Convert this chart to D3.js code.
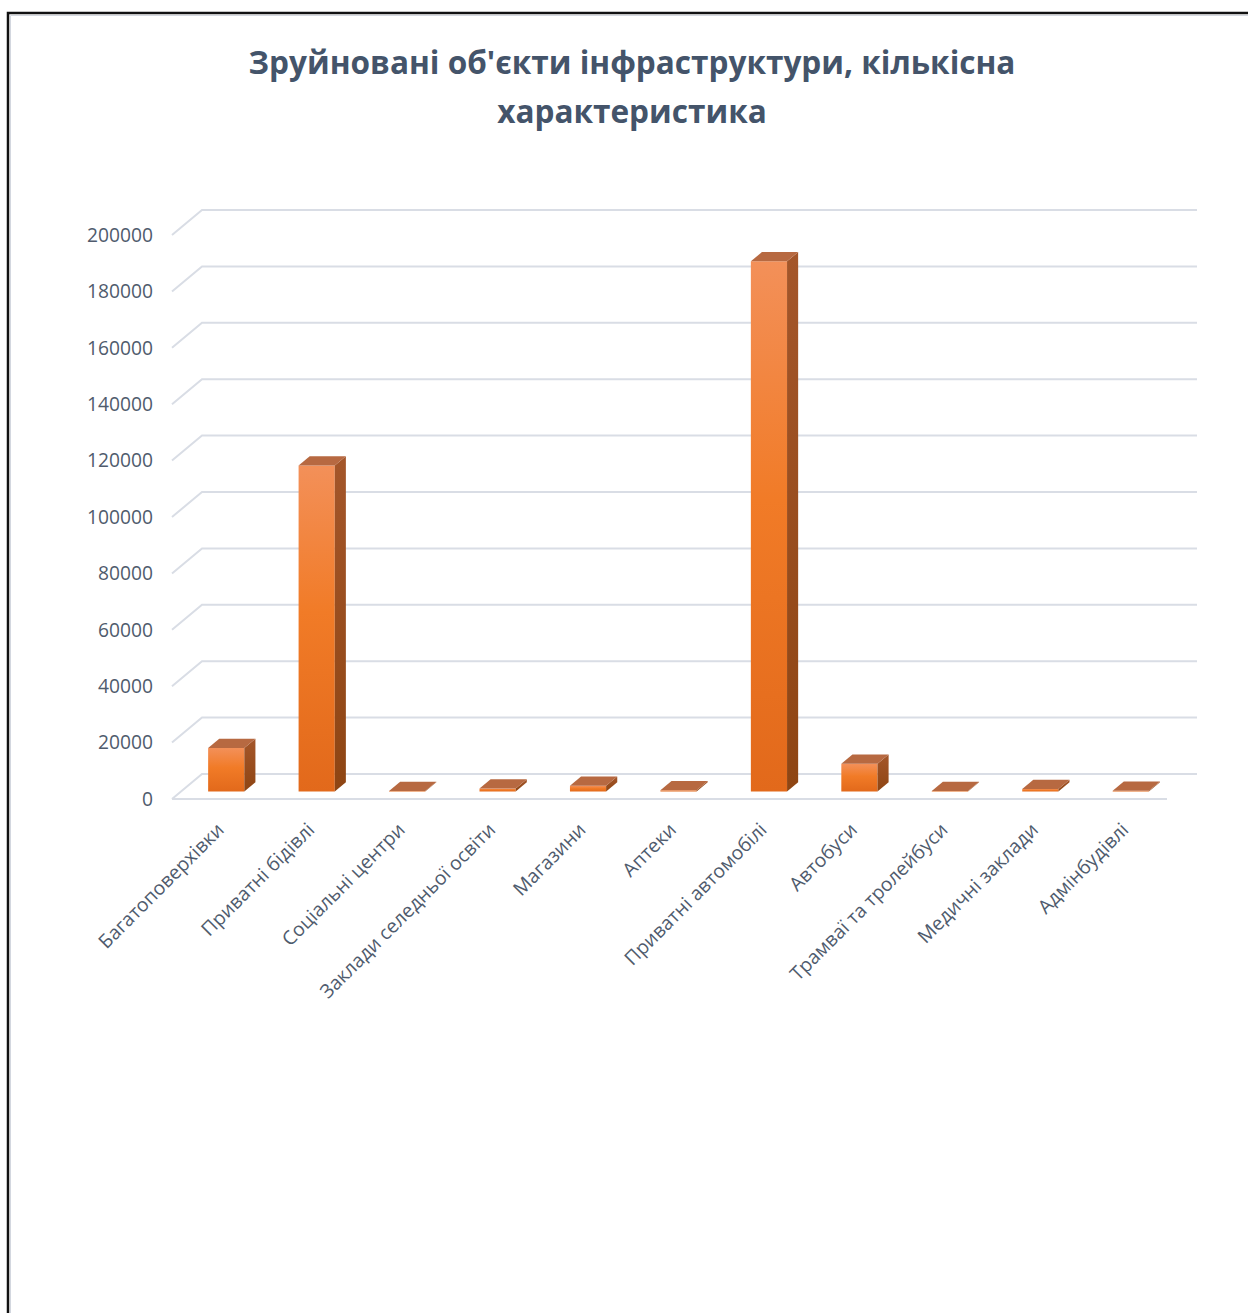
<!DOCTYPE html>
<html>
<head>
<meta charset="utf-8">
<script src="https://cdn.jsdelivr.net/npm/d3@7/dist/d3.min.js"></script>
<style>
  html, body { margin: 0; padding: 0; background: #fff; }
  svg { display: block; }
</style>
</head>
<body>
<svg id="chart" width="1248" height="1313"></svg>
<script>
const titleLines = ["Зруйновані об'єкти інфраструктури, кількісна", "характеристика"];
const categories = [
  "Багатоповерхівки",
  "Приватні бідівлі",
  "Соціальні центри",
  "Заклади селедньої освіти",
  "Магазини",
  "Аптеки",
  "Приватні автомобілі",
  "Автобуси",
  "Трамваї та тролейбуси",
  "Медичні заклади",
  "Адмінбудівлі"
];
const values = [15400, 115600, 200, 1100, 2000, 400, 188000, 9800, 200, 900, 300];
const yTicks = [0, 20000, 40000, 60000, 80000, 100000, 120000, 140000, 160000, 180000, 200000];

const FONT = "'Open Sans', 'Noto Sans', 'DejaVu Sans', sans-serif";
const svg = d3.select("#chart");

function fitSize(str, target, weight) {
  const t = svg.append("text").attr("font-family", FONT).attr("font-size", 100)
    .attr("font-weight", weight || "normal").text(str);
  const w = t.node().getComputedTextLength();
  t.remove();
  return 100 * target / w;
}

// frame
svg.append("rect").attr("x", 8).attr("y", 13).attr("width", 1400).attr("height", 1400)
  .attr("fill", "#fff").attr("stroke", "#111").attr("stroke-width", 2.5);
svg.append("path").attr("d", "M10.5,1313 V15.5 H1248").attr("fill", "none")
  .attr("stroke", "#d3d7df").attr("stroke-width", 1);

// geometry
const frontLeft = 172, frontRight = 1167;
const depthDX = 30, depthDY = -25;
const d0 = 0.3, d1 = 0.67;
const proj = (x, y, d) => [x + depthDX * d, y + depthDY * d];

const x = d3.scaleBand().domain(categories).range([frontLeft, frontRight])
  .paddingInner(0.6).paddingOuter(0.3);
const y = d3.scaleLinear().domain([0, 200000]).range([799, 235]);

// title
const titleSize = fitSize(titleLines[0], 767, "bold");
svg.append("g").selectAll("text").data(titleLines).join("text")
  .attr("x", 632).attr("y", (d, i) => 74 + i * 49)
  .attr("text-anchor", "middle").attr("font-family", FONT).attr("font-weight", "bold")
  .attr("font-size", titleSize).attr("fill", "#44546a").text(d => d);

// gridlines
const grid = svg.append("g");
grid.selectAll("path.g").data(yTicks).join("path")
  .attr("d", t => {
    const a = proj(frontLeft, y(t), 0), b = proj(frontLeft, y(t), 1), c = proj(frontRight, y(t), 1);
    return d3.line()([a, b, c]);
  })
  .attr("fill", "none").attr("stroke", "#d9dde5").attr("stroke-width", 2);
grid.append("path")
  .attr("d", d3.line()([proj(frontLeft, y(0), 0), proj(frontRight, y(0), 0)]))
  .attr("fill", "none").attr("stroke", "#d9dde5").attr("stroke-width", 2);

// y tick labels
const tickSize = fitSize("200000", 66);
svg.append("g").selectAll("text").data(yTicks).join("text")
  .attr("x", 153).attr("y", t => y(t)).attr("dy", "0.35em")
  .attr("text-anchor", "end").attr("font-family", FONT).attr("font-size", tickSize)
  .attr("fill", "#4f5b6d").text(t => t);

// gradients
const defs = svg.append("defs");
const gFront = defs.append("linearGradient").attr("id", "gFront")
  .attr("x1", 0).attr("y1", 0).attr("x2", 0).attr("y2", 1);
gFront.append("stop").attr("offset", "0%").attr("stop-color", "#f39059");
gFront.append("stop").attr("offset", "45%").attr("stop-color", "#f17b27");
gFront.append("stop").attr("offset", "100%").attr("stop-color", "#e2691b");
const gSide = defs.append("linearGradient").attr("id", "gSide")
  .attr("x1", 0).attr("y1", 0).attr("x2", 0).attr("y2", 1);
gSide.append("stop").attr("offset", "0%").attr("stop-color", "#a4562a");
gSide.append("stop").attr("offset", "100%").attr("stop-color", "#8e4513");

// bars
const data = categories.map((c, i) => ({ c, v: values[i] }));
const bars = svg.append("g").selectAll("g").data(data).join("g");
const w = x.bandwidth();
const y0 = y(0);
bars.append("path").attr("d", d => {
  const x0 = x(d.c), yv = y(d.v);
  return d3.line()([proj(x0, y0, d0), proj(x0 + w, y0, d0), proj(x0 + w, yv, d0), proj(x0, yv, d0)]) + "Z";
}).attr("fill", "url(#gFront)");
bars.append("path").attr("d", d => {
  const x0 = x(d.c), yv = y(d.v);
  return d3.line()([proj(x0 + w, y0, d0), proj(x0 + w, y0, d1), proj(x0 + w, yv, d1), proj(x0 + w, yv, d0)]) + "Z";
}).attr("fill", "url(#gSide)");
bars.append("path").attr("d", d => {
  const x0 = x(d.c), yv = y(d.v);
  return d3.line()([proj(x0, yv, d0), proj(x0 + w, yv, d0), proj(x0 + w, yv, d1), proj(x0, yv, d1)]) + "Z";
}).attr("fill", "#b76941");

// x labels
const labSize = fitSize("Багатоповерхівки", 168);
svg.append("g").selectAll("text").data(categories).join("text")
  .attr("transform", c => `translate(${x(c) + w / 2 + 8},831) rotate(-45)`)
  .attr("text-anchor", "end").attr("font-family", FONT).attr("font-size", labSize)
  .attr("fill", "#4f5b6d").text(c => c);
</script>
</body>
</html>
